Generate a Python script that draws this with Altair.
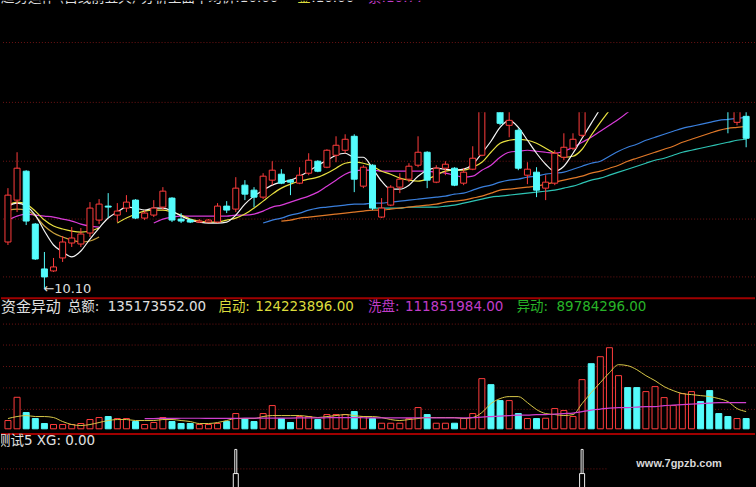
import altair as alt
import pandas as pd

# ---------------- daily candles ----------------
OPEN = [10.57, 10.99, 11.28, 10.75, 10.30, 10.28, 10.41, 10.56, 10.55, 10.66,
        10.79, 10.93, 10.84, 10.91, 10.99, 10.81, 10.84, 10.92, 11.01, 10.80,
        10.79, 10.77, 10.77, 10.77, 10.93, 10.90, 11.14, 11.09, 11.02, 11.19,
        11.25, 11.19, 11.16, 11.26, 11.38, 11.32, 11.44, 11.49, 11.63, 11.13,
        11.34, 10.82, 10.94, 11.12, 11.20, 11.34, 11.47, 11.17, 11.31, 11.31,
        11.16, 11.30, 11.44, 12.25, 12.00, 11.74, 11.69, 11.24, 11.27, 11.11,
        11.16, 11.42, 11.51, 11.64, 12.40, 12.25, 12.45, 12.60, 12.70, 12.55,
        12.40, 12.50, 12.55, 12.60, 12.65, 12.70, 12.80, 12.55, 12.25, 12.05,
        11.77, 11.83]
HIGH = [11.11, 11.47, 11.29, 10.76, 10.47, 10.41, 10.63, 10.72, 10.71, 10.97,
        11.00, 11.06, 10.96, 11.04, 11.00, 10.89, 10.99, 11.12, 11.02, 10.86,
        10.80, 10.80, 10.80, 10.96, 10.98, 11.22, 11.19, 11.12, 11.26, 11.38,
        11.30, 11.20, 11.32, 11.46, 11.39, 11.50, 11.63, 11.65, 11.65, 11.34,
        11.35, 11.01, 11.14, 11.26, 11.36, 11.63, 11.48, 11.34, 11.38, 11.32,
        11.31, 11.53, 12.07, 12.30, 12.05, 11.91, 11.71, 11.37, 11.32, 11.24,
        11.49, 11.66, 11.66, 12.00, 12.45, 12.50, 12.70, 12.80, 12.75, 12.60,
        12.60, 12.70, 12.70, 12.75, 12.85, 12.90, 12.85, 12.60, 12.30, 12.10,
        12.00, 11.95]
LOW = [10.54, 10.87, 10.74, 10.39, 10.10, 10.27, 10.37, 10.52, 10.52, 10.62,
       10.75, 10.81, 10.77, 10.87, 10.80, 10.79, 10.82, 10.89, 10.77, 10.76,
       10.76, 10.76, 10.77, 10.76, 10.86, 10.87, 10.99, 10.92, 11.00, 11.14,
       11.15, 11.04, 11.15, 11.24, 11.27, 11.31, 11.37, 11.46, 11.07, 11.11,
       10.89, 10.81, 10.93, 11.06, 11.17, 11.32, 11.11, 11.16, 11.24, 11.13,
       11.14, 11.29, 11.43, 12.00, 11.74, 11.62, 11.29, 11.15, 11.02, 10.99,
       11.14, 11.39, 11.49, 11.62, 12.10, 12.20, 12.40, 12.55, 12.45, 12.30,
       12.35, 12.45, 12.50, 12.55, 12.60, 12.65, 12.45, 12.15, 11.95, 11.66,
       11.74, 11.52]
CLOSE = [11.04, 11.31, 10.78, 10.40, 10.22, 10.32, 10.57, 10.61, 10.65, 10.91,
         10.95, 10.92, 10.88, 10.97, 10.81, 10.86, 10.91, 11.08, 10.79, 10.78,
         10.77, 10.78, 10.79, 10.93, 10.89, 11.11, 11.05, 11.02, 11.23, 11.29,
         11.16, 11.17, 11.24, 11.39, 11.28, 11.49, 11.54, 11.60, 11.20, 11.32,
         10.91, 10.91, 11.12, 11.20, 11.33, 11.47, 11.19, 11.31, 11.35, 11.14,
         11.27, 11.41, 11.99, 12.09, 11.76, 11.79, 11.31, 11.30, 11.09, 11.17,
         11.46, 11.52, 11.60, 11.94, 12.25, 12.45, 12.65, 12.70, 12.55, 12.40,
         12.50, 12.60, 12.65, 12.70, 12.75, 12.80, 12.55, 12.25, 12.05, 11.92,
         11.95, 11.61]

# ---------------- moving averages on the price panel (start day, values) ----------------
MA_WHITE_START = 0
MA_WHITE = [10.93, 10.96, 10.93, 10.84, 10.68, 10.54, 10.47, 10.42, 10.48, 10.60,
            10.71, 10.81, 10.87, 10.92, 10.91, 10.89, 10.91, 10.91, 10.88, 10.83,
            10.79, 10.77, 10.76, 10.76, 10.77, 10.84, 10.95, 11.03, 11.09, 11.14,
            11.17, 11.19, 11.23, 11.28, 11.34, 11.39, 11.44, 11.46, 11.42, 11.42,
            11.31, 11.18, 11.10, 11.10, 11.14, 11.23, 11.29, 11.31, 11.30, 11.29,
            11.30, 11.35, 11.46, 11.58, 11.72, 11.79, 11.72, 11.59, 11.46, 11.35,
            11.28, 11.33, 11.46, 11.61, 11.76, 11.91, 12.10, 12.30, 12.45, 12.55,
            12.58, 12.57, 12.56, 12.60, 12.65, 12.70, 12.68, 12.58, 12.42, 12.25,
            12.05, 11.88]
MA_YELLOW_A_START = 0
MA_YELLOW_A = [10.94, 10.97, 10.95, 10.88, 10.79, 10.73, 10.70, 10.68, 10.67, 10.68, 10.71]
MA_GOLD_A_START = 0
MA_GOLD_A = [10.89, 10.90, 10.89, 10.83, 10.73, 10.66, 10.62, 10.59, 10.57, 10.58, 10.62]
MA_MAGENTA_A_START = 0
MA_MAGENTA_A = [10.79, 10.83, 10.85, 10.84, 10.83, 10.82, 10.80, 10.78, 10.75, 10.73, 10.72]
MA_YELLOW_B_START = 12
MA_YELLOW_B = [10.76, 10.81, 10.85, 10.88, 10.89, 10.89, 10.87, 10.84, 10.80, 10.78,
               10.77, 10.77, 10.79, 10.81, 10.85, 10.91, 10.98, 11.05, 11.11, 11.15,
               11.18, 11.20, 11.22, 11.26, 11.31, 11.36, 11.37, 11.36, 11.33, 11.28,
               11.25, 11.21, 11.19, 11.18, 11.20, 11.24, 11.28, 11.29, 11.29, 11.32,
               11.37, 11.47, 11.56, 11.59, 11.60, 11.59, 11.56, 11.51, 11.46, 11.42,
               11.43, 11.50, 11.64, 11.77, 11.89, 12.02, 12.15, 12.25, 12.33, 12.40,
               12.45, 12.50, 12.55, 12.58, 12.60, 12.58, 12.55, 12.50, 12.43, 12.35]
MA_MAGENTA_B_START = 16
MA_MAGENTA_B = [10.76, 10.80, 10.82, 10.83, 10.83, 10.83, 10.83, 10.83, 10.83, 10.84,
                10.84, 10.85, 10.88, 10.92, 10.94, 10.97, 11.00, 11.03, 11.07, 11.13,
                11.19, 11.25, 11.28, 11.29, 11.29, 11.28, 11.28, 11.28, 11.28, 11.28,
                11.28, 11.27, 11.26, 11.24, 11.22, 11.23, 11.29, 11.34, 11.42, 11.47,
                11.48, 11.49, 11.48, 11.47, 11.46, 11.48, 11.52, 11.57, 11.62, 11.68,
                11.74, 11.80, 11.87, 11.95, 12.02, 12.08, 12.13, 12.18, 12.22, 12.26,
                12.29, 12.31, 12.32, 12.32, 12.31, 12.30]
MA_BLUE_START = 28
MA_BLUE = [10.76, 10.79, 10.81, 10.84, 10.86, 10.89, 10.91, 10.92, 10.93, 10.94,
           10.95, 10.95, 10.96, 10.96, 10.97, 10.98, 10.99, 11.00, 11.01, 11.02,
           11.03, 11.05, 11.06, 11.09, 11.12, 11.14, 11.17, 11.19, 11.20, 11.22,
           11.23, 11.25, 11.26, 11.27, 11.30, 11.33, 11.36, 11.38, 11.43, 11.48,
           11.52, 11.55, 11.59, 11.62, 11.65, 11.68, 11.71, 11.73, 11.75, 11.77,
           11.79, 11.80, 11.81, 11.82]
MA_ORANGE_START = 30
MA_ORANGE = [10.78, 10.79, 10.81, 10.82, 10.83, 10.84, 10.85, 10.86, 10.87, 10.88,
             10.89, 10.89, 10.90, 10.91, 10.92, 10.93, 10.94, 10.95, 10.97, 10.98,
             10.99, 11.01, 11.03, 11.06, 11.09, 11.10, 11.11, 11.12, 11.13, 11.15,
             11.17, 11.19, 11.21, 11.23, 11.26, 11.28, 11.31, 11.34, 11.38, 11.41,
             11.44, 11.47, 11.50, 11.53, 11.57, 11.60, 11.63, 11.66, 11.69, 11.71,
             11.72, 11.73]
MA_TEAL_START = 40
MA_TEAL = [10.91, 10.91, 10.91, 10.91, 10.92, 10.92, 10.92, 10.92, 10.93, 10.94,
           10.96, 10.98, 11.00, 11.02, 11.03, 11.04, 11.05, 11.06, 11.07, 11.08,
           11.09, 11.11, 11.13, 11.16, 11.19, 11.21, 11.24, 11.27, 11.30, 11.33,
           11.36, 11.39, 11.41, 11.44, 11.47, 11.49, 11.51, 11.53, 11.55, 11.57,
           11.59, 11.60]

# ---------------- 资金异动 panel (百万) ----------------
AMOUNT = [83, 316, 163, 103, 53, 43, 43, 43, 53, 93,
          113, 123, 103, 103, 73, 43, 63, 113, 73, 53,
          53, 43, 43, 53, 73, 153, 103, 73, 153, 233,
          103, 63, 123, 123, 93, 143, 143, 143, 173, 123,
          103, 56, 56, 56, 103, 213, 143, 56, 56, 56,
          103, 153, 503, 443, 283, 283, 153, 103, 103, 106,
          203, 183, 123, 493, 653, 723, 813, 533, 413, 413,
          373, 423, 313, 233, 353, 373, 273, 383, 153, 123,
          103, 103]
AMT_YELLOW_START = 0
AMT_YELLOW = [103, 123, 133, 123, 123, 113, 73, 43, 33, 43,
              63, 83, 93, 93, 83, 83, 83, 93, 93, 83,
              73, 53, 53, 63, 83, 103, 103, 103, 123, 133,
              133, 133, 133, 123, 113, 123, 133, 143, 133, 123,
              123, 113, 93, 83, 93, 103, 113, 113, 113, 113,
              103, 113, 163, 253, 303, 323, 323, 263, 193, 153,
              143, 133, 143, 253, 363, 463, 563, 643, 633, 593,
              533, 483, 423, 383, 353, 343, 333, 323, 303, 273,
              203, 173]
AMT_MAGENTA_START = 15
AMT_MAGENTA = [103, 103, 105, 105, 106, 106, 106, 105, 104, 104,
               105, 107, 108, 108, 108, 107, 108, 109, 110, 110,
               111, 112, 112, 112, 111, 110, 110, 109, 109, 110,
               111, 111, 110, 109, 109, 110, 112, 118, 123, 128,
               133, 138, 138, 143, 143, 148, 153, 158, 173, 188,
               198, 208, 213, 213, 218, 223, 223, 233, 238, 243,
               248, 253, 258, 263, 263, 263, 263]

# XG signal (测试5)
XG = [0] * 82
XG[25] = 1
XG[63] = 1

# header strings
TOP_WHITE = "趋势运作 (白线前五天) 分析里面平均价:10.60"
TOP_GOLD = "金"
TOP_WHITE_NUM = ":10.60"
TOP_PURPLE = "紫:10.77"
AMT_TITLE = ["资金异动", "总额:", "135173552.00", "启动:", "124223896.00",
             "洗盘:", "111851984.00", "异动:", "89784296.00"]
XG_TITLE = "测试5 XG: 0.00"
SITE = "www.7gpzb.com"

# gridline levels
PRICE_GRID = [12.57, 11.97, 11.38, 10.80, 10.22]
AMT_GRID = [1050, 840, 625, 410, 195]
XG_GRID = [0.5]

# ---------------- styling ----------------
W = 756
H_HEAD, H_PRICE, H_AMT, H_XG = 112, 185, 135, 55
RED = "#ff3c3c"
CYAN = "#54fcfc"
GRID = "#6e1414"
SEP = "#a00000"
WHITE_TXT = "#e0e0e0"
YEL_TXT = "#dcdc3c"
MAG_TXT = "#c03cc8"
GRN_TXT = "#28b428"
LATIN = "DejaVu Sans, Noto Sans CJK SC"
CJK = "Noto Sans CJK SC"

PRICE_LO, PRICE_CUT, PRICE_TOP = 10.02, 11.87, 12.99
AMT_LO, AMT_HI = -37, 1313
XG_HI = 1.41

X_SCALE = alt.Scale(domain=[-0.216, 81.425], nice=False, zero=False)
X = alt.X("i:Q", scale=X_SCALE, axis=None)

bars = pd.DataFrame({"i": list(range(len(CLOSE))), "open": OPEN, "high": HIGH,
                     "low": LOW, "close": CLOSE, "amount": AMOUNT, "xg": XG})
UP = "datum.close >= datum.open"
DOWN = "datum.close < datum.open"


def series(start, values):
    return pd.DataFrame({"i": list(range(start, start + len(values))), "v": values})


def label(text, x, y, color, size, font=LATIN, align="left", baseline="middle", weight="normal"):
    return alt.Chart(pd.DataFrame({"t": [text]})).mark_text(
        align=align, baseline=baseline, color=color, fontSize=size, font=font,
        fontWeight=weight, clip=True
    ).encode(text="t:N", x=alt.value(x), y=alt.value(y))


def grid(levels, scale, x2=None):
    enc = dict(y=alt.Y("level:Q", scale=scale, axis=None))
    if x2 is not None:
        enc.update(x=alt.value(0), x2=alt.value(x2))
    return alt.Chart(pd.DataFrame({"level": levels})).mark_rule(
        color=GRID, strokeDash=[1, 2], strokeWidth=1, clip=True).encode(**enc)


# ---------------- header strip above the candles ----------------
yA = alt.Scale(domain=[PRICE_CUT, PRICE_TOP], nice=False, zero=False)
head = alt.layer(
    grid(PRICE_GRID, yA),
    label(TOP_WHITE, 0, 1.5, WHITE_TXT, 13.5, baseline="alphabetic"),
    label(TOP_GOLD, 297, 1.5, YEL_TXT, 13.5, baseline="alphabetic"),
    label(TOP_WHITE_NUM, 311, 1.5, WHITE_TXT, 13.5, baseline="alphabetic"),
    label(TOP_PURPLE, 368, 1.5, MAG_TXT, 13.5, baseline="alphabetic"),
).properties(width=W, height=H_HEAD)

# ---------------- candles + moving averages ----------------
yB = alt.Scale(domain=[PRICE_LO, PRICE_CUT], nice=False, zero=False)
cb = alt.Chart(bars).encode(x=X)
wick_up = cb.transform_filter(UP).mark_rule(color=RED, strokeWidth=1, clip=True).encode(
    y=alt.Y("low:Q", scale=yB, axis=None), y2="high:Q")
wick_dn = cb.transform_filter(DOWN).mark_rule(color=CYAN, strokeWidth=1, clip=True).encode(
    y=alt.Y("low:Q", scale=yB, axis=None), y2="high:Q")
body_up = cb.transform_filter(UP).mark_bar(size=6, fill="#000000", stroke=RED, strokeWidth=1, clip=True).encode(
    y=alt.Y("open:Q", scale=yB, axis=None), y2="close:Q")
body_dn = cb.transform_filter(DOWN).mark_bar(size=6, fill=CYAN, stroke=CYAN, strokeWidth=1, clip=True).encode(
    y=alt.Y("open:Q", scale=yB, axis=None), y2="close:Q")


def ma_line(start, values, color, scale, width=1.2):
    return alt.Chart(series(start, values)).mark_line(
        color=color, strokeWidth=width, interpolate="monotone", clip=True
    ).encode(x=X, y=alt.Y("v:Q", scale=scale, axis=None))


ma_layers = [
    ma_line(MA_TEAL_START, MA_TEAL, "#2ec4b4", yB),
    ma_line(MA_ORANGE_START, MA_ORANGE, "#e07828", yB),
    ma_line(MA_BLUE_START, MA_BLUE, "#3a7fdc", yB),
    ma_line(MA_MAGENTA_A_START, MA_MAGENTA_A, "#d83cd8", yB),
    ma_line(MA_MAGENTA_B_START, MA_MAGENTA_B, "#d83cd8", yB),
    ma_line(MA_GOLD_A_START, MA_GOLD_A, "#c8a03c", yB),
    ma_line(MA_YELLOW_A_START, MA_YELLOW_A, "#e8e040", yB),
    ma_line(MA_YELLOW_B_START, MA_YELLOW_B, "#e8e040", yB),
    ma_line(MA_WHITE_START, MA_WHITE, "#f4f4f4", yB),
]

low_i = LOW.index(min(LOW))
low_df = pd.DataFrame({"i": [low_i], "low": [LOW[low_i]], "t": ["\u2190" + f"{LOW[low_i]:.2f}"]})
low_label = alt.Chart(low_df).mark_text(
    align="left", baseline="middle", dx=-1, color=WHITE_TXT, fontSize=13, font=LATIN, clip=True
).encode(x=X, y=alt.Y("low:Q", scale=yB, axis=None), text="t:N")

price = alt.layer(
    grid(PRICE_GRID, yB), *ma_layers, wick_up, wick_dn, body_up, body_dn, low_label
).properties(width=W, height=H_PRICE)

# ---------------- 资金异动 ----------------
yC = alt.Scale(domain=[AMT_LO, AMT_HI], nice=False, zero=False)
vb = alt.Chart(bars).encode(x=X)
amt_up = vb.transform_filter(UP).mark_bar(size=6, fill="#000000", stroke=RED, strokeWidth=1, clip=True).encode(
    y=alt.Y("amount:Q", scale=yC, axis=None), y2=alt.datum(0))
amt_dn = vb.transform_filter(DOWN).mark_bar(size=6, fill=CYAN, stroke=CYAN, strokeWidth=1, clip=True).encode(
    y=alt.Y("amount:Q", scale=yC, axis=None), y2=alt.datum(0))
sep_top = alt.Chart(pd.DataFrame({"k": [0]})).mark_rule(color=SEP, strokeWidth=2).encode(
    y=alt.value(0.5), x=alt.value(0), x2=alt.value(W))

title_x = [0, 67, 107, 218, 255, 368, 405, 517, 557]
title_c = [WHITE_TXT, WHITE_TXT, WHITE_TXT, YEL_TXT, YEL_TXT, MAG_TXT, MAG_TXT, GRN_TXT, GRN_TXT]
title_layers = [
    label(t, x, 9, c, 15 if k == 0 else 13.5, font=CJK if k == 0 else LATIN)
    for k, (t, x, c) in enumerate(zip(AMT_TITLE, title_x, title_c))
]

amount = alt.layer(
    grid(AMT_GRID, yC), amt_up, amt_dn,
    ma_line(AMT_YELLOW_START, AMT_YELLOW, "#d8c848", yC, 1.0),
    ma_line(AMT_MAGENTA_START, AMT_MAGENTA, "#d040d0", yC, 1.2),
    sep_top, *title_layers
).properties(width=W, height=H_AMT)

# ---------------- 测试5 XG ----------------
yD = alt.Scale(domain=[0, XG_HI], nice=False, zero=False)
xb = alt.Chart(bars).transform_filter("datum.xg > 0").transform_calculate(foot="datum.xg * 0.38").encode(x=X)
spike = xb.mark_bar(size=2, fill="#000000", stroke="#f0f0f0", strokeWidth=1, clip=True).encode(
    y=alt.Y("xg:Q", scale=yD, axis=None), y2=alt.datum(0))
spike_foot = xb.mark_bar(size=5, fill="#000000", stroke="#f0f0f0", strokeWidth=1, clip=True).encode(
    y=alt.Y("foot:Q", scale=yD, axis=None), y2=alt.datum(0))

xg_panel = alt.layer(
    grid(XG_GRID, yD, x2=608), spike, spike_foot, sep_top,
    label(XG_TITLE, -4, 8, WHITE_TXT, 13.5),
    label(SITE, 637, 31, "#d8d8d8", 11, font="Liberation Sans", weight="bold"),
).properties(width=W, height=H_XG)

chart = alt.vconcat(head, price, amount, xg_panel, spacing=0).properties(
    padding=0, background="#000000"
).configure_view(strokeWidth=0)

chart.save("out.html", embed_options={"renderer": "svg", "actions": False})
